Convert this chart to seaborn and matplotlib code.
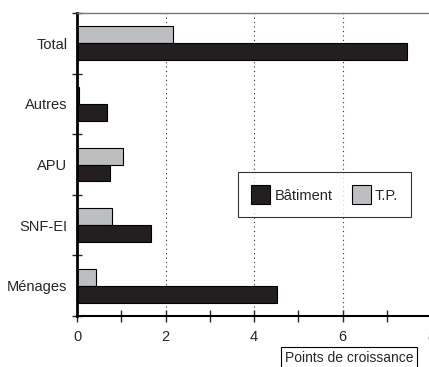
import matplotlib
matplotlib.use("Agg")
import matplotlib.pyplot as plt
import matplotlib.patches as mpatches
from matplotlib.ticker import MultipleLocator, FixedLocator
import seaborn as sns
import pandas as pd

# values (points de croissance)
categories = ["Total", "Autres", "APU", "SNF-EI", "Ménages"]
batiment = [7.46, 0.67, 0.74, 1.67, 4.52]
tp = [2.17, 0.05, 1.03, 0.80, 0.43]

series = ["Bâtiment", "T.P."]
colors = {"Bâtiment": "#231f20", "T.P.": "#bcbec0"}

df = pd.DataFrame({
    "Secteur": categories * 2,
    "Valeur": batiment + tp,
    "Serie": ["Bâtiment"] * len(categories) + ["T.P."] * len(categories),
})

sns.set_style("white")
plt.rcParams["font.family"] = ["Liberation Sans", "DejaVu Sans"]

fig = plt.figure(figsize=(4.29, 3.67), dpi=100)
ax = fig.add_axes([77 / 429, 51 / 367, 354 / 429, 303 / 367])

sns.barplot(data=df, x="Valeur", y="Secteur", hue="Serie", order=categories,
            hue_order=["T.P.", "Bâtiment"], palette=colors, orient="h",
            width=0.56, edgecolor="black", linewidth=0.8, saturation=1,
            ax=ax, legend=False)

ax.set_xlim(0, 8)
ax.set_ylim(4.5, -0.5)
ax.set_xlabel("")
ax.set_ylabel("")

# dotted vertical grid
for xv in [2, 4, 6]:
    ax.axvline(xv, color="#333333", linestyle=(0, (1, 3)), linewidth=0.8, zorder=0)

ax.xaxis.set_major_locator(MultipleLocator(2))
ax.xaxis.set_minor_locator(MultipleLocator(1))
ax.tick_params(axis="x", which="both", direction="inout", length=8, width=1,
               bottom=True, pad=6, labelsize=10.5)
ax.tick_params(axis="y", which="major", length=0, pad=7, labelsize=10.5)
ax.yaxis.set_minor_locator(FixedLocator([-0.5, 0.5, 1.5, 2.5, 3.5, 4.5]))
ax.tick_params(axis="y", which="minor", direction="inout", length=7, width=1, left=True)

for side in ["left", "bottom"]:
    ax.spines[side].set_color("black")
ax.spines["left"].set_linewidth(2)
ax.spines["bottom"].set_linewidth(1.5)
ax.spines["top"].set_color("#777777")
ax.spines["top"].set_linewidth(1)
ax.spines["right"].set_visible(False)

handles = [mpatches.Patch(facecolor=colors[s], edgecolor="black", linewidth=0.8, label=s)
           for s in series]
leg = ax.legend(handles=handles, ncol=2, loc="center",
                bbox_to_anchor=(0.70, 0.40), frameon=True, fancybox=False,
                edgecolor="black", fontsize=10.5, handlelength=1.3, handleheight=1.6,
                columnspacing=1.3, handletextpad=0.3, borderpad=0.9)
leg.get_frame().set_linewidth(0.8)

fig.text(349 / 429, 1 - 358 / 367, "Points de croissance", ha="center", va="center",
         fontsize=10,
         bbox=dict(boxstyle="square,pad=0.3", facecolor="white", edgecolor="black",
                   linewidth=0.8))

plt.savefig("out.png", dpi=100)
plt.close()
